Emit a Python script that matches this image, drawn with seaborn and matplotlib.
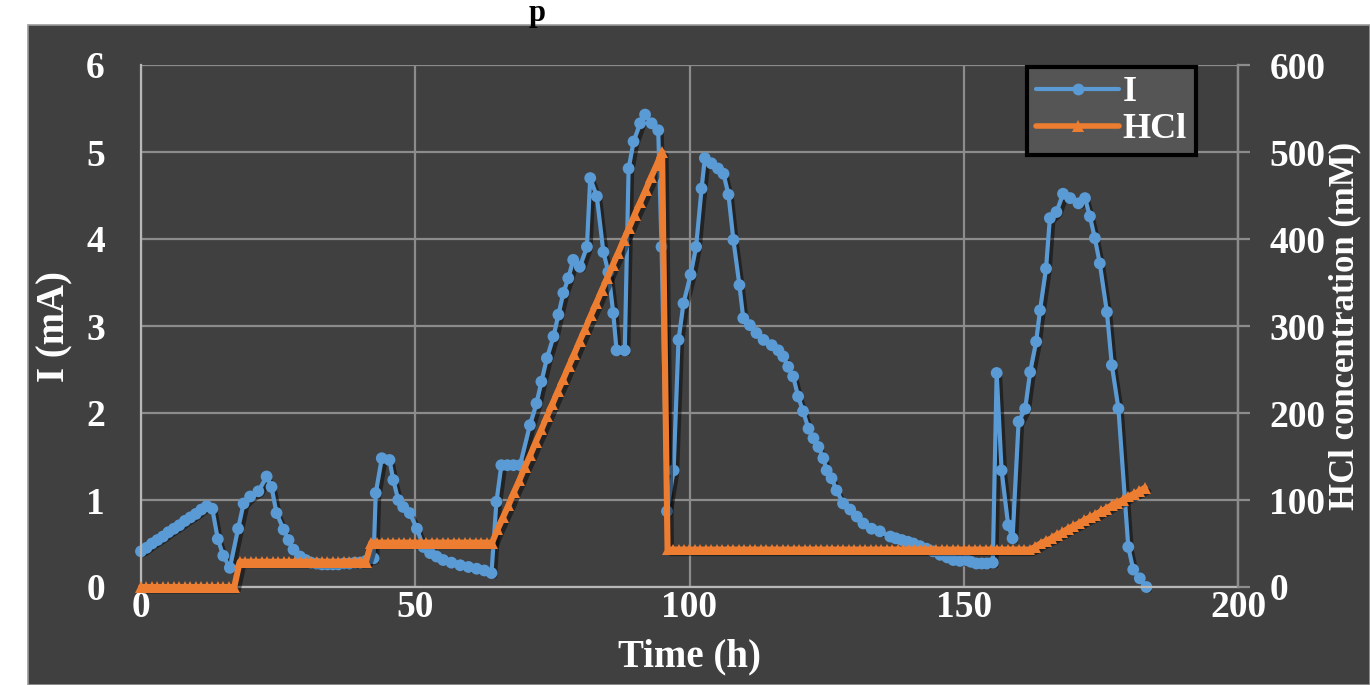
import matplotlib
matplotlib.use('Agg')
import matplotlib.pyplot as plt
import matplotlib.patheffects as pe
from matplotlib.lines import Line2D
from matplotlib.patches import Rectangle
import seaborn as sns

# ---------------- data ----------------
time_I = [0, 1, 2, 3, 4, 5, 6, 7, 8, 9, 10, 11, 12, 13, 14, 15,
          16.2, 17.7, 18.7, 19.9, 21.4, 22.9, 23.8, 24.7, 26, 26.9, 27.8, 29, 30, 31,
          32, 33, 34, 35, 36, 37, 38, 39, 40, 41,
          42.4, 42.8, 43.9, 45.3, 46, 46.9, 47.8, 49, 50.3, 51.5,
          52.7, 53.9, 55.1, 56.6, 58.2, 59.7, 61.2, 62.6, 63.9,
          64.8, 65.7, 66.8, 67.9, 69.1, 70.9, 72.1, 73, 74, 75.2,
          76.1, 77, 77.9, 78.8, 80, 81.3, 81.9, 83.1, 84.3, 85.2,
          86.1, 86.7, 88.2, 88.9, 89.8, 91, 91.9, 93.1, 94.3, 94.9,
          95.9, 97.1, 98, 98.9, 100.2, 101.2, 102.2, 102.8, 104, 105.2,
          106.2, 107.1, 108, 109.1, 109.8, 111, 112.2, 113.5, 115, 116.2,
          117.1, 118, 118.9, 119.8, 120.7, 121.7, 122.6, 123.5, 124.4, 125,
          125.9, 126.8, 128, 129.3, 130.5, 131.7, 133.2, 134.7, 136.6, 137.6,
          138.7, 139.8, 140.8, 142, 143.2, 144.4, 145.7, 147, 148.1, 149.3,
          150.5, 151.3, 152.3, 153.3, 154.2, 155.3, 156, 156.9, 158.1, 158.9,
          160, 161.2, 162.1, 163.2, 163.9, 165, 165.7, 166.9, 168.1, 169.4,
          170.9, 172.1, 173, 173.9, 174.8, 176.1, 177, 178.2, 180, 180.9,
          182.1, 183.3]

current_I = [0.41, 0.45, 0.50, 0.54, 0.58, 0.63, 0.67, 0.71, 0.76, 0.80, 0.84, 0.89, 0.93, 0.90, 0.55, 0.36,
             0.22, 0.67, 0.96, 1.04, 1.10, 1.27, 1.15, 0.85, 0.66, 0.54, 0.43, 0.35, 0.31, 0.28,
             0.27, 0.26, 0.26, 0.26, 0.26, 0.27, 0.27, 0.28, 0.28, 0.30,
             0.33, 1.08, 1.48, 1.46, 1.23, 1.00, 0.92, 0.85, 0.67, 0.46,
             0.39, 0.35, 0.31, 0.28, 0.25, 0.23, 0.21, 0.19, 0.16,
             0.98, 1.40, 1.40, 1.40, 1.40, 1.86, 2.11, 2.36, 2.63, 2.88,
             3.13, 3.38, 3.55, 3.76, 3.68, 3.91, 4.70, 4.49, 3.85, 3.62,
             3.15, 2.72, 2.72, 4.81, 5.12, 5.33, 5.43, 5.33, 5.25, 3.91,
             0.87, 1.34, 2.84, 3.26, 3.59, 3.91, 4.58, 4.93, 4.87, 4.81,
             4.75, 4.51, 3.99, 3.47, 3.09, 3.01, 2.92, 2.84, 2.78, 2.72,
             2.65, 2.53, 2.42, 2.19, 2.02, 1.82, 1.71, 1.61, 1.48, 1.34,
             1.25, 1.11, 0.96, 0.89, 0.81, 0.73, 0.67, 0.64, 0.58, 0.56,
             0.54, 0.52, 0.50, 0.47, 0.44, 0.41, 0.37, 0.34, 0.31, 0.30,
             0.31, 0.29, 0.27, 0.27, 0.27, 0.28, 2.46, 1.34, 0.71, 0.56,
             1.90, 2.05, 2.47, 2.82, 3.18, 3.66, 4.24, 4.31, 4.52, 4.47,
             4.41, 4.47, 4.26, 4.01, 3.72, 3.16, 2.55, 2.05, 0.46, 0.20,
             0.10, 0.00]

time_HCl = [0, 1, 2, 3, 4, 5, 6, 7, 8, 9, 10, 11, 12, 13, 14, 15, 16, 17, 18, 19,
            20, 21, 22, 23, 24, 25, 26, 27, 28, 29, 30, 31, 32, 33, 34, 35, 36, 37, 38, 39,
            40, 41, 42, 43, 44, 45, 46, 47, 48, 49, 50, 51, 52, 53, 54, 55, 56, 57, 58, 59,
            60, 61, 62, 63, 64, 65, 66, 67, 68, 69, 70, 71, 72, 73, 74, 75, 76, 77, 78, 79,
            80, 81, 82, 83, 84, 85, 86, 87, 88, 89, 90, 91, 92, 93, 94, 95, 96, 97, 98, 99,
            100, 101, 102, 103, 104, 105, 106, 107, 108, 109, 110, 111, 112, 113, 114, 115, 116, 117, 118, 119,
            120, 121, 122, 123, 124, 125, 126, 127, 128, 129, 130, 131, 132, 133, 134, 135, 136, 137, 138, 139,
            140, 141, 142, 143, 144, 145, 146, 147, 148, 149, 150, 151, 152, 153, 154, 155, 156, 157, 158, 159,
            160, 161, 162, 163, 164, 165, 166, 167, 168, 169, 170, 171, 172, 173, 174, 175, 176, 177, 178, 179,
            180, 181, 182, 183]

conc_HCl = [0, 0, 0, 0, 0, 0, 0, 0, 0, 0, 0, 0, 0, 0, 0, 0, 0, 0,
            29, 29, 29, 29, 29, 29, 29, 29, 29, 29, 29, 29, 29, 29, 29, 29, 29, 29, 29, 29, 29, 29, 29, 29,
            51, 51, 51, 51, 51, 51, 51, 51, 51, 51, 51, 51, 51, 51, 51, 51, 51, 51, 51, 51, 51, 51, 51,
            66, 80, 94, 109, 123, 138, 152, 167, 181, 196, 210, 225, 239, 254, 268, 283,
            297, 312, 326, 341, 355, 370, 384, 399, 413, 428, 442, 456, 471, 485, 500,
            43, 43, 43, 43, 43, 43, 43, 43, 43, 43, 43, 43, 43, 43, 43, 43, 43, 43, 43, 43,
            43, 43, 43, 43, 43, 43, 43, 43, 43, 43, 43, 43, 43, 43, 43, 43, 43, 43, 43, 43,
            43, 43, 43, 43, 43, 43, 43, 43, 43, 43, 43, 43, 43, 43, 43, 43, 43, 43, 43, 43,
            43, 43, 43, 43, 43, 43, 43,
            46, 50, 53, 56, 60, 63, 67, 70, 73, 77, 80, 83, 87, 90, 94, 97, 100, 104, 107, 110, 114]

x_ticks = [0, 50, 100, 150, 200]
y_ticks_I = [0, 1, 2, 3, 4, 5, 6]
y_ticks_HCl = [0, 100, 200, 300, 400, 500, 600]
series_names = ['I', 'HCl']

# ---------------- style ----------------
BLUE = '#5B9BD5'
ORANGE = '#ED7D31'
BG = '#404040'
GRID = '#8c8c8c'

sns.set_style('dark', rc={'axes.facecolor': BG, 'figure.facecolor': 'white'})
plt.rcParams['font.family'] = ['Liberation Serif', 'DejaVu Serif']
plt.rcParams['font.weight'] = 'bold'

W, H = 1370, 685
fig = plt.figure(figsize=(W / 100, H / 100), dpi=100, facecolor='white')
fig.patches.append(Rectangle((28 / W, 0), 1 - 28 / W, 1 - 25 / H, transform=fig.transFigure,
                             facecolor=BG, edgecolor='#9a9a9a', lw=1.2, zorder=-10))

# partially visible title fragment (kept inside the canvas)
fig.text(537 / W, 1 - 21 / H, 'p', fontsize=22, fontweight='bold', color='black',
         ha='center', va='baseline', family='Liberation Serif')

ax = fig.add_axes([141 / W, 1 - 587 / H, (1238 - 141) / W, (587 - 65) / H])
ax.set_facecolor(BG)
ax2 = ax.twinx()

shadow = [pe.SimpleLineShadow(offset=(2.5, -2.5), shadow_color='black', alpha=0.45), pe.Normal()]

sns.lineplot(x=time_I, y=current_I, ax=ax, color=BLUE, marker='o', markersize=8.5,
             markeredgewidth=0, linewidth=3.0, sort=False, estimator=None, legend=False,
             clip_on=False)
ax.lines[-1].set_path_effects(shadow)

sns.lineplot(x=time_HCl, y=conc_HCl, ax=ax2, color=ORANGE, marker='^', markersize=8.5,
             markeredgewidth=0, linewidth=4.4, sort=False, estimator=None, legend=False,
             clip_on=False)
ax2.lines[-1].set_path_effects(shadow)

ax.set_xlim(0, 200)
ax.set_ylim(0, 6)
ax2.set_ylim(0, 600)
ax.set_xticks(x_ticks)
ax.set_yticks(y_ticks_I)
ax2.set_yticks(y_ticks_HCl)

ax.grid(True, color=GRID, lw=1.6)
ax2.grid(False)
ax.set_axisbelow(True)

ax.spines['top'].set_visible(False)
ax.spines['left'].set_color('#b8b8b8')
ax.spines['bottom'].set_color('#b8b8b8')
ax.spines['right'].set_color(GRID)
for sp in ax.spines.values():
    sp.set_linewidth(1.6)
for s in ['top', 'left', 'bottom']:
    ax2.spines[s].set_visible(False)
ax2.spines['right'].set_color(GRID)
ax2.spines['right'].set_linewidth(1.6)

FS = 27
ax.tick_params(axis='y', length=0, pad=26, labelsize=FS, labelcolor='white')
ax.tick_params(axis='x', length=0, pad=2, labelsize=FS, labelcolor='white')
ax2.tick_params(axis='y', length=8.6, width=1.6, color=GRID, pad=14, labelsize=FS,
                labelcolor='white', right=True)
for lab in ax.get_xticklabels() + ax.get_yticklabels() + ax2.get_yticklabels():
    lab.set_fontweight('bold')

ax.set_xlabel('Time (h)', fontsize=28, fontweight='bold', color='white', labelpad=10)
ax.set_ylabel('I (mA)', fontsize=28, fontweight='bold', color='white', labelpad=9)
ax2.set_ylabel('HCl concentration (mM)', fontsize=25, fontweight='bold', color='white',
               labelpad=2, rotation=90)

handles = [Line2D([], [], color=BLUE, marker='o', lw=3, ms=8.5, markeredgewidth=0),
           Line2D([], [], color=ORANGE, marker='^', lw=4, ms=8.5, markeredgewidth=0)]
leg = ax2.legend(handles, series_names, loc='upper right', bbox_to_anchor=(0.9617, 0.996),
                 borderaxespad=0, frameon=True, facecolor='#555555', edgecolor='black',
                 framealpha=1, fancybox=False, prop={'size': 26, 'weight': 'bold',
                                                     'family': 'Liberation Serif'},
                 labelcolor='white', handlelength=2.3, borderpad=0.25, labelspacing=0.1,
                 handletextpad=0.1)
leg.get_frame().set_linewidth(3)

fig.savefig('out.png', dpi=100, facecolor='white')
